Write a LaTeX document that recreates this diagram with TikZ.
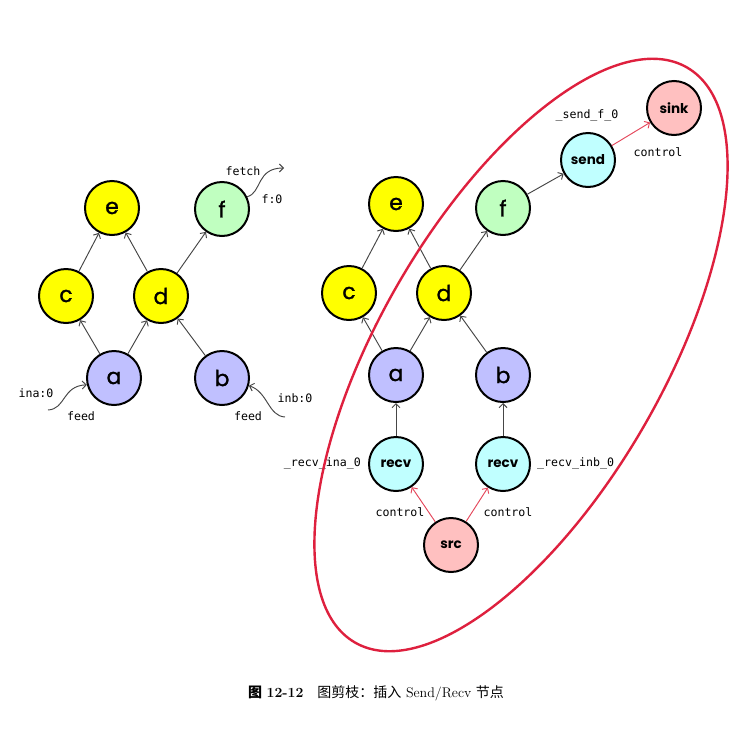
\documentclass[tikz,border=0pt]{standalone}
\usepackage{fontspec}
\newfontfamily\cjk{Noto Sans CJK SC}
\newfontfamily\nodefont[FakeBold=1.2]{Poppins}
\newfontfamily\opfont{Poppins}
\newfontfamily\lblfont{DejaVu Sans Mono}
\usetikzlibrary{arrows.meta}
\definecolor{nyellow}{RGB}{255,255,0}
\definecolor{ngreen}{RGB}{192,255,192}
\definecolor{nblue}{RGB}{192,192,255}
\definecolor{ncyan}{RGB}{192,255,255}
\definecolor{npink}{RGB}{255,192,192}
\definecolor{ered}{RGB}{222,32,62}
\definecolor{cred}{RGB}{228,72,92}
\definecolor{egray}{RGB}{70,70,70}
\tikzset{
  vtx/.style={circle, draw=black, line width=2pt, minimum size=54pt, inner sep=0pt,
    font=\nodefont\fontsize{22}{22}\selectfont},
  opnode/.style={vtx, font=\opfont\bfseries\fontsize{13.5}{13.5}\selectfont},
  edge/.style={draw=egray, line width=0.95pt, -{Straight Barb[length=4pt,width=8pt]}},
  ctrl/.style={edge, draw=cred},
  lbl/.style={font=\lblfont\fontsize{11.6}{11.6}\selectfont, inner sep=0pt},
}
\begin{document}
\begin{tikzpicture}[x=1pt,y=-1pt]
\useasboundingbox (0,0) rectangle (746,731);
% ---- left graph
\node[vtx, fill=nyellow] (le) at (112,208) {e};
\node[vtx, fill=ngreen]  (lf) at (222,209) {f};
\node[vtx, fill=nyellow] (lc) at (66,296) {c};
\node[vtx, fill=nyellow] (ld) at (161,296) {d};
\node[vtx, fill=nblue]   (la) at (114,378) {a};
\node[vtx, fill=nblue]   (lb) at (222,378) {b};
\draw[edge] (lc) -- (le);
\draw[edge] (ld) -- (le);
\draw[edge] (ld) -- (lf);
\draw[edge] (la) -- (lc);
\draw[edge] (la) -- (ld);
\draw[edge] (lb) -- (ld);
\coordinate (fetchend) at (284,168);
\coordinate (feedastart) at (48,410);
\coordinate (feedbstart) at (285,417);
\draw[edge] (lf.26) .. controls (262,193) and (256,168) .. (fetchend);
\draw[edge] (feedastart) .. controls (66,409) and (62,386) .. (la.194);
\draw[edge] (feedbstart) .. controls (268,416) and (268,392) .. (lb.-16);
\node[lbl] (tfetch) at (243,171) {fetch};
\node[lbl] (tf0) at (272,199) {f:0};
\node[lbl] (tina) at (36,393) {ina:0};
\node[lbl] (tfeeda) at (81,416) {feed};
\node[lbl] (tinb) at (295,398) {inb:0};
\node[lbl] (tfeedb) at (248,416) {feed};
% ---- right graph
\node[vtx, fill=nyellow] (re) at (396,204) {e};
\node[vtx, fill=ngreen]  (rf) at (503,208) {f};
\node[vtx, fill=nyellow] (rc) at (349,293) {c};
\node[vtx, fill=nyellow] (rd) at (444,293) {d};
\node[vtx, fill=nblue]   (ra) at (396,375) {a};
\node[vtx, fill=nblue]   (rb) at (503,375) {b};
\node[opnode, fill=ncyan] (rvl) at (396,464) {recv};
\node[opnode, fill=ncyan] (rvr) at (503,464) {recv};
\node[opnode, fill=npink] (src) at (451,545) {src};
\node[opnode, fill=ncyan] (send) at (588,160) {send};
\node[opnode, fill=npink] (sink) at (674,108) {sink};
\draw[edge] (rc) -- (re);
\draw[edge] (rd) -- (re);
\draw[edge] (rd) -- (rf);
\draw[edge] (ra) -- (rc);
\draw[edge] (ra) -- (rd);
\draw[edge] (rb) -- (rd);
\draw[edge] (rvl) -- (ra);
\draw[edge] (rvr) -- (rb);
\draw[edge] (rf) -- (send);
\draw[ctrl] (send) -- (sink);
\draw[ctrl] (src) -- (rvl);
\draw[ctrl] (src) -- (rvr);
\node[lbl, anchor=east] (trina) at (361,463) {\_recv\_ina\_0};
\node[lbl, anchor=west] (trinb) at (537,463) {\_recv\_inb\_0};
\node[lbl] (tctl1) at (400,512) {control};
\node[lbl] (tctl2) at (508,512) {control};
\node[lbl] (tsend) at (587,115) {\_send\_f\_0};
\node[lbl] (tctl3) at (658,152) {control};
% ---- ellipse
\draw[ered, line width=2.4pt, rotate around={60:(521,355)}] (521,355) ellipse [x radius=332, y radius=142];
% ---- caption
\node[font=\fontsize{14}{14}\selectfont, inner sep=0pt] (cap) at (376,693)
  {{\cjk\bfseries 图}\ \textbf{12-12}\quad{\cjk 图剪枝：插入}\ Send/Recv\ {\cjk 节点}};
\end{tikzpicture}
\end{document}
